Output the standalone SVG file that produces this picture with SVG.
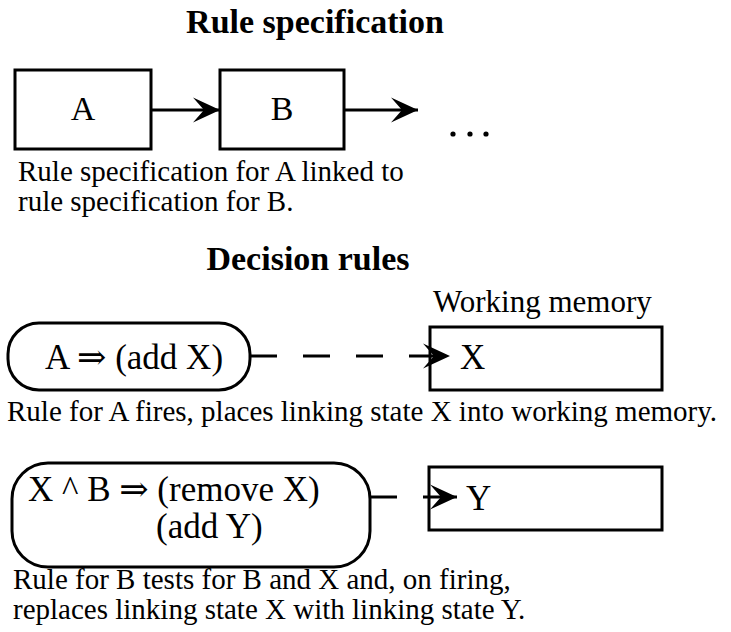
<svg xmlns="http://www.w3.org/2000/svg" width="731" height="632" viewBox="0 0 731 632">
  <style>
    .t { font-family: "Liberation Serif", "DejaVu Serif", serif; fill: #000; }
    .title { font-size: 34px; font-weight: bold; }
    .cap { font-size: 29px; }
    .lbl { font-size: 34px; }
    .rule { font-size: 35px; }
    .box { fill: #fff; stroke: #000; stroke-width: 3; }
    .line { fill: none; stroke: #000; stroke-width: 3; }
    .dash { stroke-dasharray: 27 26; }
  </style>
  <defs>
    <!-- barbed arrowhead, tip at the line end -->
    <marker id="head" markerUnits="userSpaceOnUse" markerWidth="30" markerHeight="30" viewBox="-28 -14 30 28" refX="0" refY="0" orient="auto">
      <path d="M0,0 L-27,-12.5 L-16,0 L-27,12.5 Z" fill="#000"/>
    </marker>
  </defs>
  <rect width="731" height="632" fill="#fff"/>

  <!-- headings -->
  <text class="t title" x="315" y="33" text-anchor="middle">Rule specification</text>
  <text class="t title" x="308" y="270" text-anchor="middle">Decision rules</text>
  <text class="t" x="433" y="312" font-size="31">Working memory</text>

  <!-- rule specification chain -->
  <g id="specA">
    <rect class="box" x="15" y="70" width="136" height="79"/>
    <text class="t lbl" x="83" y="120" text-anchor="middle">A</text>
  </g>
  <g id="specB">
    <rect class="box" x="220" y="70" width="124" height="79"/>
    <text class="t lbl" x="282" y="120" text-anchor="middle">B</text>
  </g>
  <g id="ellipsis">
    <circle cx="453" cy="134" r="2.6"/>
    <circle cx="470" cy="134" r="2.6"/>
    <circle cx="486" cy="134" r="2.6"/>
  </g>
  <text class="t cap" x="18" y="181">Rule specification for A linked to</text>
  <text class="t cap" x="18" y="211">rule specification for B.</text>

  <!-- decision rules -->
  <g id="ruleA">
    <rect class="box" x="8" y="323" width="242" height="67" rx="31" ry="31"/>
    <text class="t rule" x="45" y="369">A ⇒ (add X)</text>
  </g>
  <g id="memX">
    <rect class="box" x="430" y="327" width="232" height="63"/>
    <text class="t rule" x="460" y="369">X</text>
  </g>
  <text class="t cap" x="7" y="421">Rule for A fires, places linking state X into working memory.</text>

  <g id="ruleB">
    <rect class="box" x="12" y="463" width="358" height="104" rx="36" ry="36"/>
    <text class="t rule" x="28" y="501">X ^ B ⇒ (remove X)</text>
    <text class="t rule" x="156" y="538">(add Y)</text>
  </g>
  <g id="memY">
    <rect class="box" x="429" y="467" width="233" height="63"/>
    <text class="t rule" x="466" y="510">Y</text>
  </g>
  <text class="t cap" x="13" y="589" font-size="30">Rule for B tests for B and X and, on firing,</text>
  <text class="t cap" x="13" y="619" font-size="30">replaces linking state X with linking state Y.</text>

  <!-- connectors -->
  <g id="connectors">
    <line class="line" x1="151" y1="110" x2="220" y2="110" marker-end="url(#head)"/>
    <line class="line" x1="344" y1="110" x2="418" y2="110" marker-end="url(#head)"/>
    <line class="line dash" x1="250" y1="356" x2="450" y2="356" marker-end="url(#head)"/>
    <line class="line" x1="370" y1="497" x2="397" y2="497"/>
    <line class="line" x1="423" y1="497" x2="457" y2="497" marker-end="url(#head)"/>
  </g>
</svg>
